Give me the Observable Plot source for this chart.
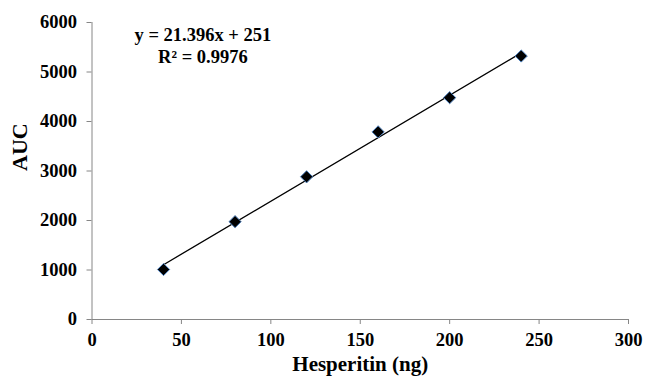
<!DOCTYPE html>
<html>
<head>
<meta charset="utf-8">
<script src="https://cdn.jsdelivr.net/npm/d3@7"></script>
<script src="https://cdn.jsdelivr.net/npm/@observablehq/plot@0.6"></script>
<style>
  html, body { margin: 0; padding: 0; background: #fff; }
</style>
</head>
<body>
<div id="chart"></div>
<script>
const hesperitin = [40, 80, 120, 160, 200, 240];
const auc = [1010, 1976, 2883, 3790, 4482, 5323];
const xTicks = [0, 50, 100, 150, 200, 250, 300];
const yTicks = [0, 1000, 2000, 3000, 4000, 5000, 6000];
const slope = 21.396;
const intercept = 251;
const equationText = "y = 21.396x + 251\nR² = 0.9976";

const points = hesperitin.map((x, i) => ({x, y: auc[i]}));
const xMin = d3.min(hesperitin), xMax = d3.max(hesperitin);
const trend = [xMin, xMax].map(x => ({x, y: slope * x + intercept}));

const axisGray = "#868686";
const font = "'Liberation Serif', 'Times New Roman', serif";

const chart = Plot.plot({
  width: 645,
  height: 381,
  marginLeft: 91.5,
  marginRight: 17,
  marginTop: 22,
  marginBottom: 62,
  style: {fontFamily: font, fontWeight: "bold", fontSize: "18px", background: "#fff", color: "#000"},
  x: {domain: [0, 300]},
  y: {domain: [0, 6000]},
  marks: [
    Plot.axisX({ticks: xTicks, tickFormat: d3.format("d"), tickSize: 5, tickPadding: 8, stroke: axisGray, fill: "#000", label: null, fontSize: 18.5, fontWeight: "bold"}),
    Plot.axisY({ticks: yTicks, tickFormat: d3.format("d"), tickSize: 5, tickPadding: 10, stroke: axisGray, fill: "#000", label: null, fontSize: 18.5, fontWeight: "bold"}),
    Plot.ruleX([0], {stroke: axisGray, strokeWidth: 1}),
    Plot.ruleY([0], {stroke: axisGray, strokeWidth: 1}),
    Plot.line(trend, {x: "x", y: "y", stroke: "#000", strokeWidth: 1.3}),
    Plot.dot(points, {x: "x", y: "y", symbol: "diamond2", r: 5.5, fill: "#000", stroke: "#4F81BD", strokeWidth: 1}),
    Plot.text([equationText], {x: 62, y: 5540, text: d => d, fontSize: 18.5, fontWeight: "bold", lineHeight: 1.2, fill: "#000"}),
    Plot.text(["AUC"], {frameAnchor: "left", dx: -72, rotate: -90, text: d => d, fontSize: 22, fontWeight: "bold", fill: "#000"}),
    Plot.text(["Hesperitin (ng)"], {frameAnchor: "bottom", dy: 51, text: d => d, fontSize: 21, fontWeight: "bold", fill: "#000"})
  ]
});
document.getElementById("chart").appendChild(chart);
</script>
</body>
</html>
